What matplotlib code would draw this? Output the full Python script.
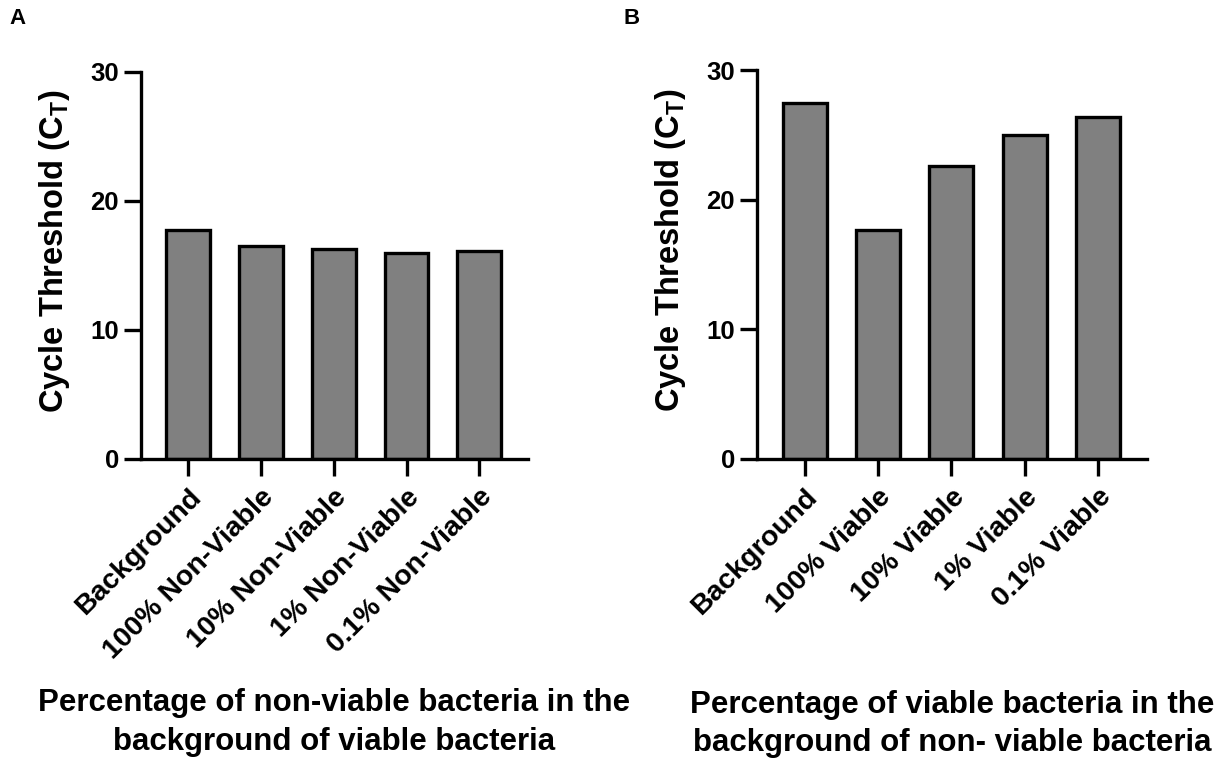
import matplotlib
matplotlib.use("Agg")
import matplotlib.pyplot as plt

plt.rcParams['font.family'] = ['Liberation Sans', 'DejaVu Sans']
plt.rcParams['font.weight'] = 'bold'
plt.rcParams['mathtext.fontset'] = 'custom'
plt.rcParams['mathtext.rm'] = 'Liberation Sans:bold'
plt.rcParams['mathtext.bf'] = 'Liberation Sans:bold'

# Data
cats_a = ["Background", "100% Non-Viable", "10% Non-Viable", "1% Non-Viable", "0.1% Non-Viable"]
vals_a = [17.75, 16.5, 16.25, 16.0, 16.15]
cats_b = ["Background", "100% Viable", "10% Viable", "1% Viable", "0.1% Viable"]
vals_b = [27.45, 17.65, 22.6, 24.95, 26.4]
yticks = [0, 10, 20, 30]
ylabel = r"Cycle Threshold (C$_{\mathrm{T}}$)"
xlabel_a = "Percentage of non-viable bacteria in the\nbackground of viable bacteria"
xlabel_b = "Percentage of viable bacteria in the\nbackground of non- viable bacteria"

W, H = 1222, 759
fig = plt.figure(figsize=(W / 100, H / 100), dpi=100)

def make_panel(rect, cats, vals, xlabel, letter, letter_xy):
    ax = fig.add_axes(rect)
    x = list(range(len(cats)))
    ax.bar(x, vals, width=0.6, color="#808080", edgecolor="black", linewidth=2.4, zorder=2)
    ax.set_xlim(-0.65, len(cats) - 1 + 0.67)
    ax.set_ylim(0, 30)
    ax.set_yticks(yticks)
    ax.set_xticks(x)
    ax.set_xticklabels(cats, rotation=45, ha="right", rotation_mode="anchor", fontsize=20.5, fontweight="bold")
    ax.tick_params(axis="both", width=2.4, length=12, pad=4)
    ax.tick_params(axis="y", labelsize=18.5)
    ax.tick_params(axis="x", pad=6)
    for lab in ax.get_yticklabels():
        lab.set_fontweight("bold")
    for s in ["top", "right"]:
        ax.spines[s].set_visible(False)
    for s in ["left", "bottom"]:
        ax.spines[s].set_linewidth(2.4)
        ax.spines[s].set_capstyle("projecting")
    ax.set_ylabel(ylabel, fontsize=23.5, fontweight="bold")
    ax.yaxis.set_label_coords(-0.178, 0.537)
    ax.set_xlabel(xlabel, fontsize=22.5, fontweight="bold", linespacing=1.35)
    ax.xaxis.set_label_coords(0.5, -0.593)
    fig.text(letter_xy[0] / W, 1 - letter_xy[1] / H, letter, fontsize=16, fontweight="bold",
             ha="center", va="center")
    return ax

make_panel([141 / W, 1 - 459 / H, 387 / W, 387 / H], cats_a, vals_a, xlabel_a, "A", (18, 19))
make_panel([757 / W, 1 - 459 / H, 390 / W, 389 / H], cats_b, vals_b, xlabel_b, "B", (632, 19))

fig.savefig("out.png", dpi=100)
